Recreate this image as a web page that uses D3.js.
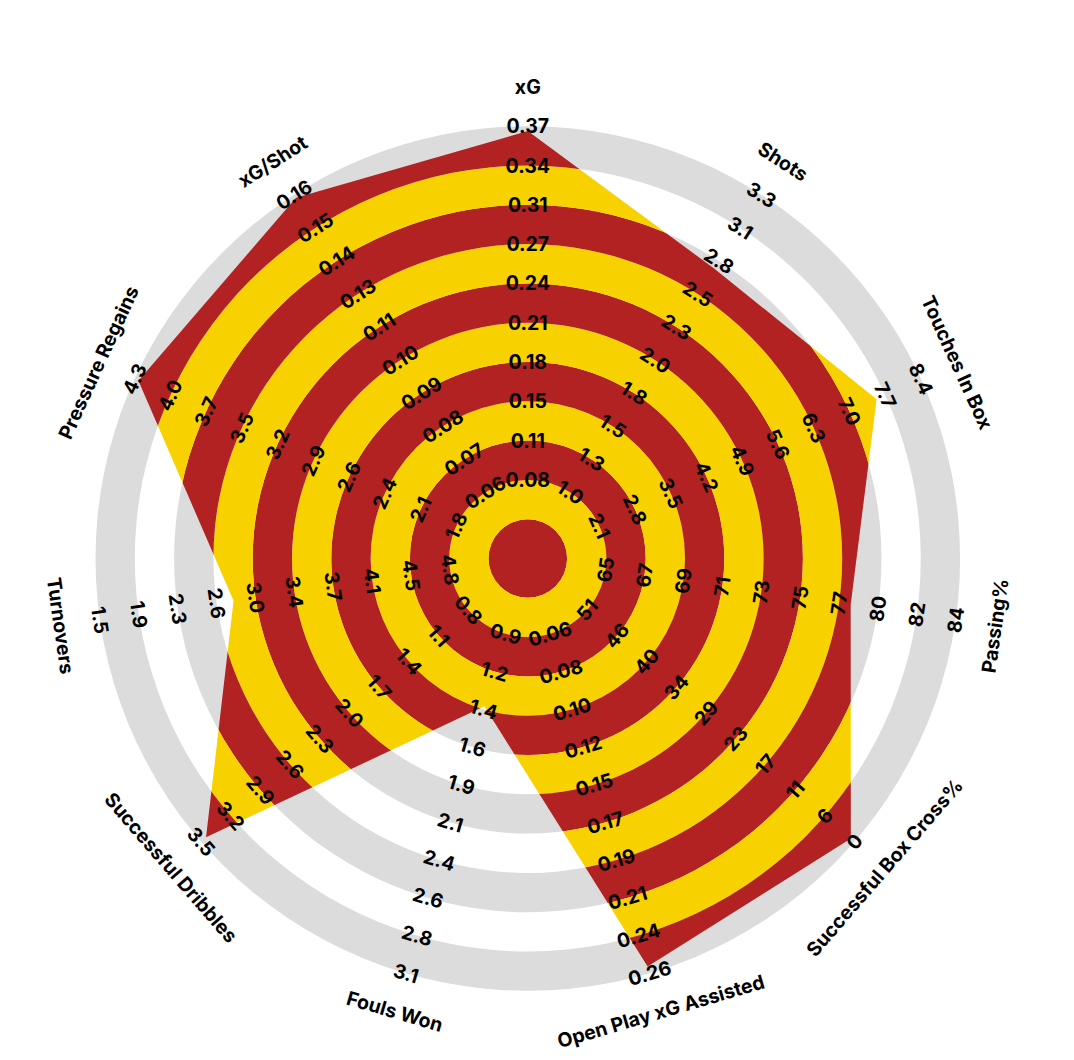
<!DOCTYPE html>
<html>
<head>
<meta charset="utf-8">
<script src="https://cdn.jsdelivr.net/npm/d3@7"></script>
<style>
  html, body { margin: 0; padding: 0; background: #ffffff; }
  svg { display: block; }
  text { font-family: Inter, "Noto Sans", sans-serif; fill: #000; }
</style>
</head>
<body>
<svg id="chart" width="1074" height="1060"></svg>
<script>
const params = ["xG", "Shots", "Touches In Box", "Passing%", "Successful Box Cross%",
  "Open Play xG Assisted", "Fouls Won", "Successful Dribbles", "Turnovers",
  "Pressure Regains", "xG/Shot"];

// value at the centre circle edge (low) and at the outer edge (high)
const lowValues  = [0.048, 0.744, 1.4, 62.89, 56.67, 0.0378, 0.656, 0.5, 5.167, 1.522, 0.0489];
const highValues = [0.37, 3.30, 8.4, 84.0, 0.0, 0.26, 3.1, 3.5, 1.5, 4.3, 0.16];

const playerValues = [0.366, 2.73, 7.53, 78.3, 0.7, 0.256, 1.37, 3.45, 2.76, 4.27, 0.159];

const tickLabels = [
  ["0.08", "0.11", "0.15", "0.18", "0.21", "0.24", "0.27", "0.31", "0.34", "0.37"],
  ["1.0", "1.3", "1.5", "1.8", "2.0", "2.3", "2.5", "2.8", "3.1", "3.3"],
  ["2.1", "2.8", "3.5", "4.2", "4.9", "5.6", "6.3", "7.0", "7.7", "8.4"],
  ["65", "67", "69", "71", "73", "75", "77", "80", "82", "84"],
  ["51", "46", "40", "34", "29", "23", "17", "11", "6", "0"],
  ["0.06", "0.08", "0.10", "0.12", "0.15", "0.17", "0.19", "0.21", "0.24", "0.26"],
  ["0.9", "1.2", "1.4", "1.6", "1.9", "2.1", "2.4", "2.6", "2.8", "3.1"],
  ["0.8", "1.1", "1.4", "1.7", "2.0", "2.3", "2.6", "2.9", "3.2", "3.5"],
  ["4.8", "4.5", "4.1", "3.7", "3.4", "3.0", "2.6", "2.3", "1.9", "1.5"],
  ["1.8", "2.1", "2.4", "2.6", "2.9", "3.2", "3.5", "3.7", "4.0", "4.3"],
  ["0.06", "0.07", "0.08", "0.09", "0.10", "0.11", "0.13", "0.14", "0.15", "0.16"]
];

const colors = { red: "#B22222", yellow: "#F7D100", gray: "#DCDCDC", white: "#FFFFFF" };

const cx = 527.8, cy = 558.5, unit = 39.3, nRings = 11;
const n = params.length;
const svg = d3.select("#chart");
const g = svg.append("g").attr("transform", `translate(${cx},${cy})`);

const angle = d3.scaleLinear().domain([0, n]).range([0, 2 * Math.PI]);
const ringScale = d3.scaleLinear().domain([0, nRings]).range([0, nRings * unit]);
const radial = params.map((p, i) =>
  d3.scaleLinear().domain([lowValues[i], highValues[i]]).range([ringScale(1), ringScale(nRings)]).clamp(true));

const pt = (a, r) => [r * Math.sin(a), -r * Math.cos(a)];
const arc = d3.arc().startAngle(0).endAngle(2 * Math.PI);
const rings = d3.range(nRings);

// background rings
g.append("g").selectAll("path").data(rings.filter(i => i % 2 === 0)).join("path")
  .attr("d", i => arc({ innerRadius: ringScale(i), outerRadius: ringScale(i + 1) }))
  .attr("fill", colors.gray);

// polygon clip
const polyPoints = playerValues.map((v, i) => pt(angle(i), radial[i](v)));
const line = d3.line().curve(d3.curveLinearClosed);
svg.append("defs").append("clipPath").attr("id", "poly")
  .append("path").attr("d", line(polyPoints));

g.append("g").attr("clip-path", "url(#poly)").selectAll("path").data(rings).join("path")
  .attr("d", i => arc({ innerRadius: ringScale(i), outerRadius: ringScale(i + 1) }))
  .attr("fill", i => i % 2 === 0 ? colors.red : colors.yellow);

function rot(a) {
  let deg = a * 180 / Math.PI;
  if (deg > 90 && deg < 270) deg -= 180;
  return deg;
}

// range labels
const labelData = [];
tickLabels.forEach((labs, i) => labs.forEach((t, k) => labelData.push({ i, k, t })));
g.append("g").selectAll("text").data(labelData).join("text")
  .attr("transform", d => {
    const a = angle(d.i);
    const [x, y] = pt(a, ringScale(d.k + 2));
    return `translate(${x},${y}) rotate(${rot(a)})`;
  })
  .attr("text-anchor", "middle")
  .attr("dominant-baseline", "central")
  .attr("font-size", 19.5)
  .attr("font-weight", 700)
  .text(d => d.t);

// param labels
g.append("g").selectAll("text").data(params).join("text")
  .attr("transform", (p, i) => {
    const a = angle(i);
    const [x, y] = pt(a, 472);
    return `translate(${x},${y}) rotate(${rot(a)})`;
  })
  .attr("text-anchor", "middle")
  .attr("dominant-baseline", "central")
  .attr("font-size", 19.5)
  .attr("font-weight", 700)
  .text(p => p);
</script>
</body>
</html>
